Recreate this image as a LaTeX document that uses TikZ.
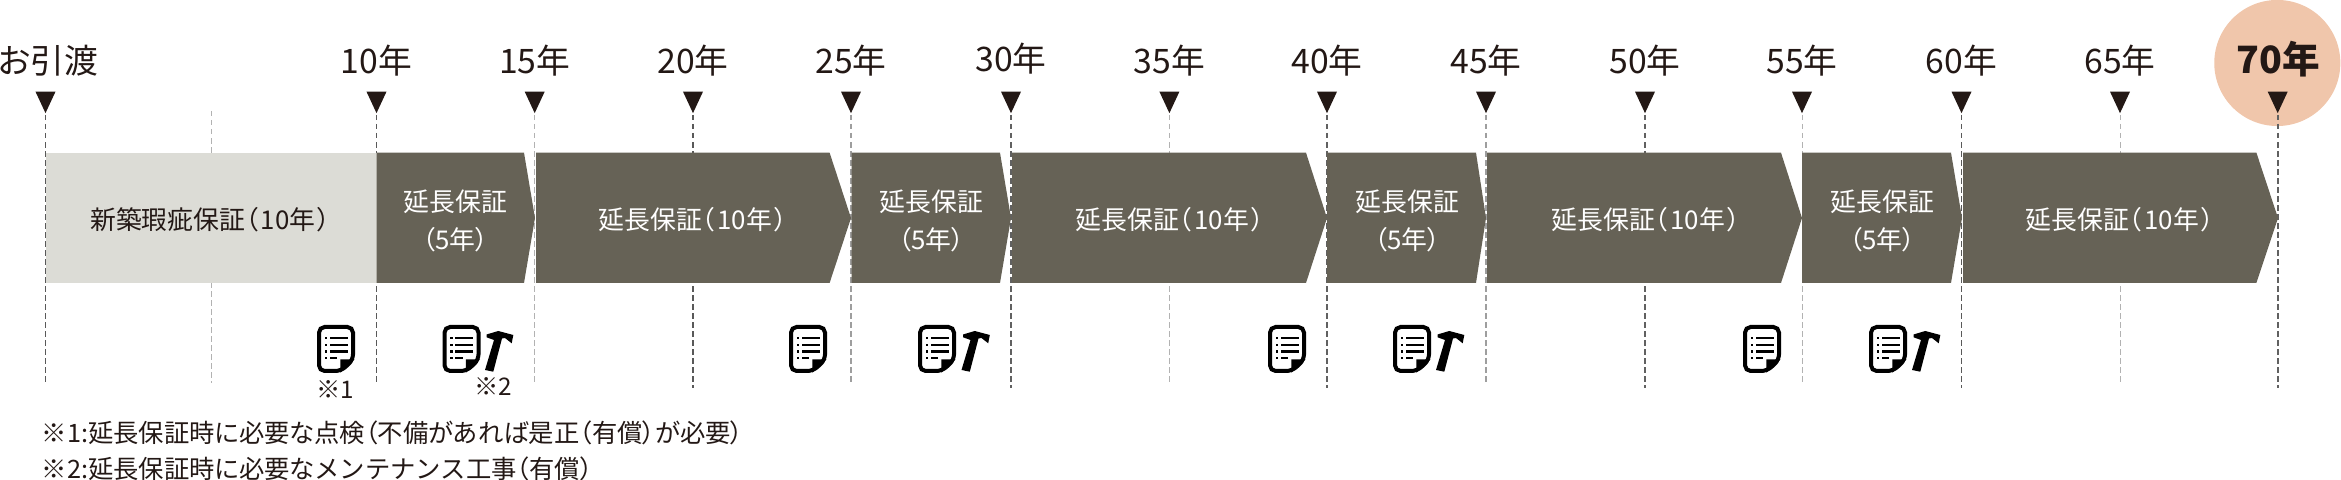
\documentclass[tikz,border=0pt]{standalone}
\usepackage{xcolor}
\usepackage{fontspec}
\usepackage{tikz}
\usetikzlibrary{shapes.geometric}
\setmainfont{Noto Sans CJK JP}[RawFeature=+palt]
\newfontfamily\fullkana{Noto Sans CJK JP}
\newcommand{\tenyears}{（\kern.1em 10年\kern.1em）}

\definecolor{inkcol}{HTML}{231815}
\definecolor{barcol}{HTML}{666256}
\definecolor{newcol}{HTML}{DCDCD6}
\definecolor{goalcol}{HTML}{F0C6AB}

\tikzset{
    yearlabel/.style={anchor=base, inner sep=0, text=inkcol, font=\fontsize{9.6pt}{11pt}\selectfont},
    goallabel/.style={anchor=base, inner sep=0, text=inkcol, font=\fontsize{10.7pt}{12pt}\selectfont\bfseries},
    yearmark/.style={isosceles triangle, isosceles triangle stretches, shape border rotate=270, fill=inkcol, inner sep=0, minimum width=0.2cm, minimum height=0.215cm, anchor=apex},
    darkdash/.style={draw=black!62, line width=0.018cm, dash pattern=on 0.055cm off 0.035cm},
    thindash/.style={draw=black!65, line width=0.011cm, dash pattern=on 0.055cm off 0.035cm},
    middash/.style={draw=black!38, line width=0.015cm, dash pattern=on 0.055cm off 0.035cm},
    paledash/.style={draw=black!30, line width=0.01cm, dash pattern=on 0.055cm off 0.035cm},
    barlabel/.style={inner sep=0, align=center, text=white, font=\fontsize{7.35pt}{10.7pt}\selectfont},
    newlabel/.style={barlabel, text=inkcol},
    notemark/.style={anchor=base, inner sep=0, text=inkcol, font=\fontsize{6.9pt}{8pt}\selectfont},
    notetext/.style={anchor=base west, inner sep=0, text=inkcol, font=\fontsize{7.2pt}{9pt}\selectfont},
    docicon/.pic={
        \draw[line width=0.04cm, rounded corners=1.6pt, fill=white] (-17,-22) -- (17,-22) -- (17,11) -- (5,22) -- (-17,22) -- cycle;
        \fill (4.3,10.3) -- (18.6,10.3) -- (4.3,23.7) -- cycle;
        \fill (-11.3,-12.2) rectangle (-8.7,-9.8);
        \fill (-6.3,-12.2) rectangle (11.7,-9.8);
        \fill (-11.3,-5.2) rectangle (-8.7,-2.8);
        \fill (-6.3,-5.2) rectangle (11.7,-2.8);
        \fill (-11.3,1.5) rectangle (-8.7,3.9);
        \fill (-6.3,1.5) rectangle (11.7,3.9);
        \fill (-11.3,8.1) rectangle (-8.7,10.5);
        \fill (-6.3,8.1) rectangle (1,10.5);
    },
    hammericon/.pic={
        \fill (-11.5,-17) -- (0.3,-20.5) -- (15.3,-16.5) -- (13.7,-8.2) -- (7,-13.5) -- (4,-13) -- (-4.7,20.2) -- (-13,18.5) -- (-4,-11.5) -- (-11.5,-14.2) -- cycle;
    }
}

\begin{document}
\begin{tikzpicture}[x=0.01cm, y=-0.01cm]
    \useasboundingbox (0,0) rectangle (2341,480);

    \node[circle, fill=goalcol, inner sep=0, minimum size=1.26cm] (goal) at (2277.3,63) {};

    % year labels
    \node[yearlabel] (y0) at (48.5,73.5) {お引渡};
    \node[yearlabel] (y10) at (376.5,73.5) {10年};
    \node[yearlabel] (y15) at (534.7,73.5) {15年};
    \node[yearlabel] (y20) at (693,73.5) {20年};
    \node[yearlabel] (y25) at (851,73.5) {25年};
    \node[yearlabel] (y30) at (1011,72) {30年};
    \node[yearlabel] (y35) at (1169.4,73.5) {35年};
    \node[yearlabel] (y40) at (1327,73.5) {40年};
    \node[yearlabel] (y45) at (1486,73.5) {45年};
    \node[yearlabel] (y50) at (1645,73.5) {50年};
    \node[yearlabel] (y55) at (1802,73.5) {55年};
    \node[yearlabel] (y60) at (1961.5,73.5) {60年};
    \node[yearlabel] (y65) at (2120,73.5) {65年};
    \node[goallabel] (y70) at (2278,73.5) {70年};

    % markers
    \node[yearmark] (m0) at (45.5,115) {};
    \node[yearmark] (m10) at (376.5,115) {};
    \node[yearmark] (m15) at (534.7,115) {};
    \node[yearmark] (m20) at (693,115) {};
    \node[yearmark] (m25) at (851,115) {};
    \node[yearmark] (m30) at (1011,115) {};
    \node[yearmark] (m35) at (1169.4,115) {};
    \node[yearmark] (m40) at (1327,115) {};
    \node[yearmark] (m45) at (1486,115) {};
    \node[yearmark] (m50) at (1645,115) {};
    \node[yearmark] (m55) at (1802,115) {};
    \node[yearmark] (m60) at (1961.5,115) {};
    \node[yearmark] (m65) at (2120,115) {};
    \node[yearmark] (m70) at (2277.7,115) {};

    \coordinate (e0) at (45.5,383);
    \coordinate (s5) at (211.7,111);
    \coordinate (e5) at (211.7,383);
    \coordinate (e10) at (376.5,383);
    \coordinate (e15) at (534.7,383);
    \coordinate (e20) at (693,388);
    \coordinate (e25) at (851,383);
    \coordinate (e30) at (1011,388);
    \coordinate (e35) at (1169.4,383);
    \coordinate (e40) at (1327,388);
    \coordinate (e45) at (1486,383);
    \coordinate (e50) at (1645,388);
    \coordinate (e55) at (1802,383);
    \coordinate (e60) at (1961.5,388);
    \coordinate (e65) at (2120,383);
    \coordinate (e70) at (2277.7,388);

    \draw[thindash] (m0.apex) -- (e0);
    \draw[paledash] (s5) -- (e5);
    \draw[thindash] (m10.apex) -- (e10);
    \draw[paledash] (m15.apex) -- (e15);
    \draw[thindash] (m20.apex) -- (e20);
    \draw[middash] (m25.apex) -- (e25);
    \draw[darkdash] (m30.apex) -- (e30);
    \draw[paledash] (m35.apex) -- (e35);
    \draw[darkdash] (m40.apex) -- (e40);
    \draw[middash] (m45.apex) -- (e45);
    \draw[darkdash] (m50.apex) -- (e50);
    \draw[paledash] (m55.apex) -- (e55);
    \draw[thindash] (m60.apex) -- (e60);
    \draw[paledash] (m65.apex) -- (e65);
    \draw[darkdash] (m70.apex) -- (e70);

    % bars
    \fill[newcol] (46,152.7) rectangle (376.5,283);
    \fill[barcol] (376.5,152.7) -- (524,152.7) -- (535,218) -- (524,283) -- (376.5,283) -- cycle;
    \fill[barcol] (536,152.7) -- (829.6,152.7) -- (851,218) -- (829.6,283) -- (536,283) -- cycle;
    \fill[barcol] (851.5,152.7) -- (1000,152.7) -- (1011,218) -- (1000,283) -- (851.5,283) -- cycle;
    \fill[barcol] (1012,152.7) -- (1306,152.7) -- (1327,218) -- (1306,283) -- (1012,283) -- cycle;
    \fill[barcol] (1327,152.7) -- (1476,152.7) -- (1486,218) -- (1476,283) -- (1327,283) -- cycle;
    \fill[barcol] (1487,152.7) -- (1781,152.7) -- (1802,218) -- (1781,283) -- (1487,283) -- cycle;
    \fill[barcol] (1802,152.7) -- (1951,152.7) -- (1962,218) -- (1951,283) -- (1802,283) -- cycle;
    \fill[barcol] (1963,152.7) -- (2256.4,152.7) -- (2278,218) -- (2256.4,283) -- (1963,283) -- cycle;

    \node[newlabel] (b0) at (210.5,220) {新築瑕疵保証\tenyears};
    \node[barlabel] (b1) at (455.5,221) {延長保証\\（5年）};
    \node[barlabel] (b2) at (693,220) {延長保証\tenyears};
    \node[barlabel] (b3) at (931.5,221) {延長保証\\（5年）};
    \node[barlabel] (b4) at (1170,220) {延長保証\tenyears};
    \node[barlabel] (b5) at (1407.5,221) {延長保証\\（5年）};
    \node[barlabel] (b6) at (1646,220) {延長保証\tenyears};
    \node[barlabel] (b7) at (1882.5,221) {延長保証\\（5年）};
    \node[barlabel] (b8) at (2120,220) {延長保証\tenyears};

    % icons
    \pic (d1) at (336,349) {docicon};
    \pic (d2) at (461.5,349) {docicon};
    \pic (h2) at (498,351.5) {hammericon};
    \pic (d3) at (808,349) {docicon};
    \pic (d4) at (937,349) {docicon};
    \pic (h4) at (974.5,351.5) {hammericon};
    \pic (d5) at (1287,349) {docicon};
    \pic (d6) at (1412,349) {docicon};
    \pic (h6) at (1449,351.5) {hammericon};
    \pic (d7) at (1762,349) {docicon};
    \pic (d8) at (1888,349) {docicon};
    \pic (h8) at (1925,351.5) {hammericon};

    \node[notemark] (n1) at (335.5,399) {※1};
    \node[notemark] (n2) at (493.5,396) {※2};
    \node[notetext] (t1) at (41,442.5) {※1:延長保証時に必要な点検（不備があれば是正（有償）が必要）};
    \node[notetext] (t2) at (41,478.5) {※2:延長保証時に必要な{\fullkana メンテナンス}工事（有償）};
\end{tikzpicture}
\end{document}
